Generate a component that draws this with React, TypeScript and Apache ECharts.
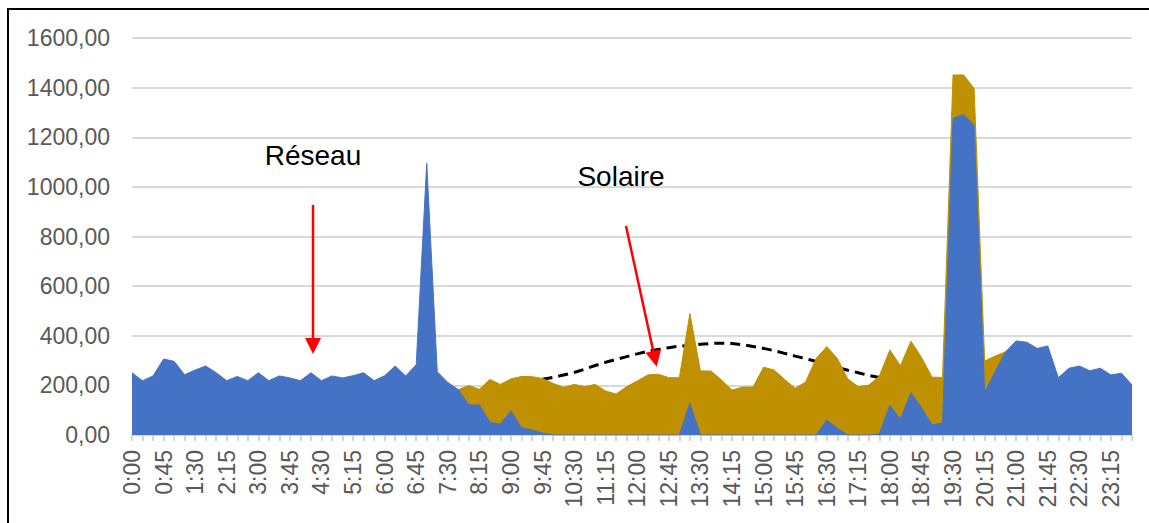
import React, { useEffect, useRef } from "react";
import * as echarts from "echarts";

// 15-minute time slots 0:00 .. 23:45
const times: string[] = [];
for (let h = 0; h < 24; h++) {
  for (const m of ["00", "15", "30", "45"]) times.push(`${h}:${m}`);
}

// Réseau (grid), one value per slot
const reseau: number[] = [
  251, 219, 238, 306, 297, 243, 262, 278, 251, 219, 236, 219,
  251, 219, 238, 230, 219, 251, 219, 238, 230, 239, 251, 219,
  239, 278, 238, 283, 1095, 255, 212, 183, 121, 121, 51, 44,
  97, 29, 20, 8, 0, 0, 0, 0, 0, 0, 0, 0,
  0, 0, 0, 0, 0, 128, 0, 0, 0, 0, 0, 0,
  0, 0, 0, 0, 0, 0, 60, 27, 0, 0, 0, 5,
  120, 64, 170, 110, 40, 48, 1276, 1292, 1249, 171, 255, 336,
  379, 374, 349, 359, 231, 269, 278, 259, 269, 242, 249, 202,
];

// Solaire (total incl. solar), only where visible
const solaire: (number | null)[] = [
  null, null, null, null, null, null, null, null, null, null, null, null,
  null, null, null, null, null, null, null, null, null, null, null, null,
  null, null, null, null, null, null, null, 183, 199, 184, 224, 204,
  226, 236, 235, 228, 208, 192, 204, 195, 204, 177, 165, 195,
  218, 242, 245, 231, 231, 490, 258, 258, 222, 181, 193, 193,
  273, 262, 224, 188, 214, 309, 356, 309, 226, 195, 201, 238,
  343, 279, 378, 313, 233, 232, 1451, 1451, 1397, 298, 318, 336,
  null, null, null, null, null, null, null, null, null, null, null, null,
];

// Dashed solar production curve
const courbe: (number | null)[] = [
  null, null, null, null, null, null, null, null, null, null, null, null,
  null, null, null, null, null, null, null, null, null, null, null, null,
  null, null, null, null, null, null, null, null, null, null, null, null,
  null, null, null, 225, 232, 242, 252, 265, 280, 293, 305, 316,
  327, 337, 345, 352, 358, 362, 366, 369, 370, 369, 364, 357,
  349, 340, 329, 318, 308, 296, 283, 272, 261, 251, 240, 232,
  null, null, null, null, null, null, null, null, null, null, null, null,
  null, null, null, null, null, null, null, null, null, null, null, null,
];

const FONT = "'Liberation Sans', Arial, sans-serif";

export default function App() {
  const ref = useRef<HTMLDivElement>(null);
  useEffect(() => {
    if (!ref.current) return;
    const chart = echarts.init(ref.current, null, { renderer: "svg" });
    chart.setOption({
      animation: false,
      backgroundColor: "#ffffff",
      grid: { left: 132, right: 17, top: 38, bottom: 88, containLabel: false },
      xAxis: {
        type: "category",
        data: times,
        boundaryGap: false,
        axisLine: { lineStyle: { color: "#d9d9d9", width: 2 } },
        axisTick: { show: true, interval: 0, length: 6, lineStyle: { color: "#c8c8c8", width: 1.5 } },
        axisLabel: {
          interval: 2,
          rotate: 90,
          margin: 15,
          color: "#595959",
          fontSize: 23,
          fontFamily: FONT,
        },
        splitLine: { show: false },
      },
      yAxis: {
        type: "value",
        min: 0,
        max: 1600,
        interval: 200,
        axisLine: { show: false },
        axisTick: { show: false },
        axisLabel: {
          margin: 22,
          color: "#595959",
          fontSize: 23,
          fontFamily: FONT,
          formatter: (v: number) => v.toFixed(2).replace(".", ","),
        },
        splitLine: { lineStyle: { color: "#d9d9d9", width: 2 } },
      },
      series: [
        {
          name: "Courbe solaire",
          type: "line",
          data: courbe,
          z: 1,
          showSymbol: false,
          lineStyle: { color: "#000000", width: 3, type: [10, 6] },
        },
        {
          name: "Solaire",
          type: "line",
          data: solaire,
          z: 2,
          showSymbol: false,
          lineStyle: { color: "#BF9000", width: 1 },
          areaStyle: { color: "#BF9000", opacity: 1 },
        },
        {
          name: "Réseau",
          type: "line",
          data: reseau,
          z: 3,
          showSymbol: false,
          lineStyle: { color: "#4472C4", width: 1 },
          areaStyle: { color: "#4472C4", opacity: 1 },
        },
      ],
      graphic: [
        {
          type: "rect",
          z: 100,
          shape: { x: 8, y: 9, width: 1160, height: 540 },
          style: { fill: "none", stroke: "#000000", lineWidth: 2 },
        },
        {
          type: "text",
          z: 100,
          x: 313,
          y: 155,
          style: { text: "Réseau", font: `28px ${FONT}`, fill: "#000000", align: "center", verticalAlign: "middle" },
        },
        {
          type: "text",
          z: 100,
          x: 621,
          y: 176,
          style: { text: "Solaire", font: `28px ${FONT}`, fill: "#000000", align: "center", verticalAlign: "middle" },
        },
        {
          type: "line",
          z: 100,
          shape: { x1: 313, y1: 205, x2: 313, y2: 340 },
          style: { stroke: "#ff0000", lineWidth: 2.5 },
        },
        {
          type: "polygon",
          z: 100,
          shape: { points: [[305, 338], [321, 338], [313, 354]] },
          style: { fill: "#ff0000" },
        },
        {
          type: "line",
          z: 100,
          shape: { x1: 626, y1: 226, x2: 653.5, y2: 352 },
          style: { stroke: "#ff0000", lineWidth: 2.5 },
        },
        {
          type: "polygon",
          z: 100,
          shape: { points: [[661.1, 349.3], [645.5, 352.7], [656.7, 366.7]] },
          style: { fill: "#ff0000" },
        },
      ],
    });
    return () => chart.dispose();
  }, []);
  return (
    <div
      ref={ref}
      style={{ position: "absolute", left: 0, top: 0, width: 1149, height: 523 }}
    />
  );
}
